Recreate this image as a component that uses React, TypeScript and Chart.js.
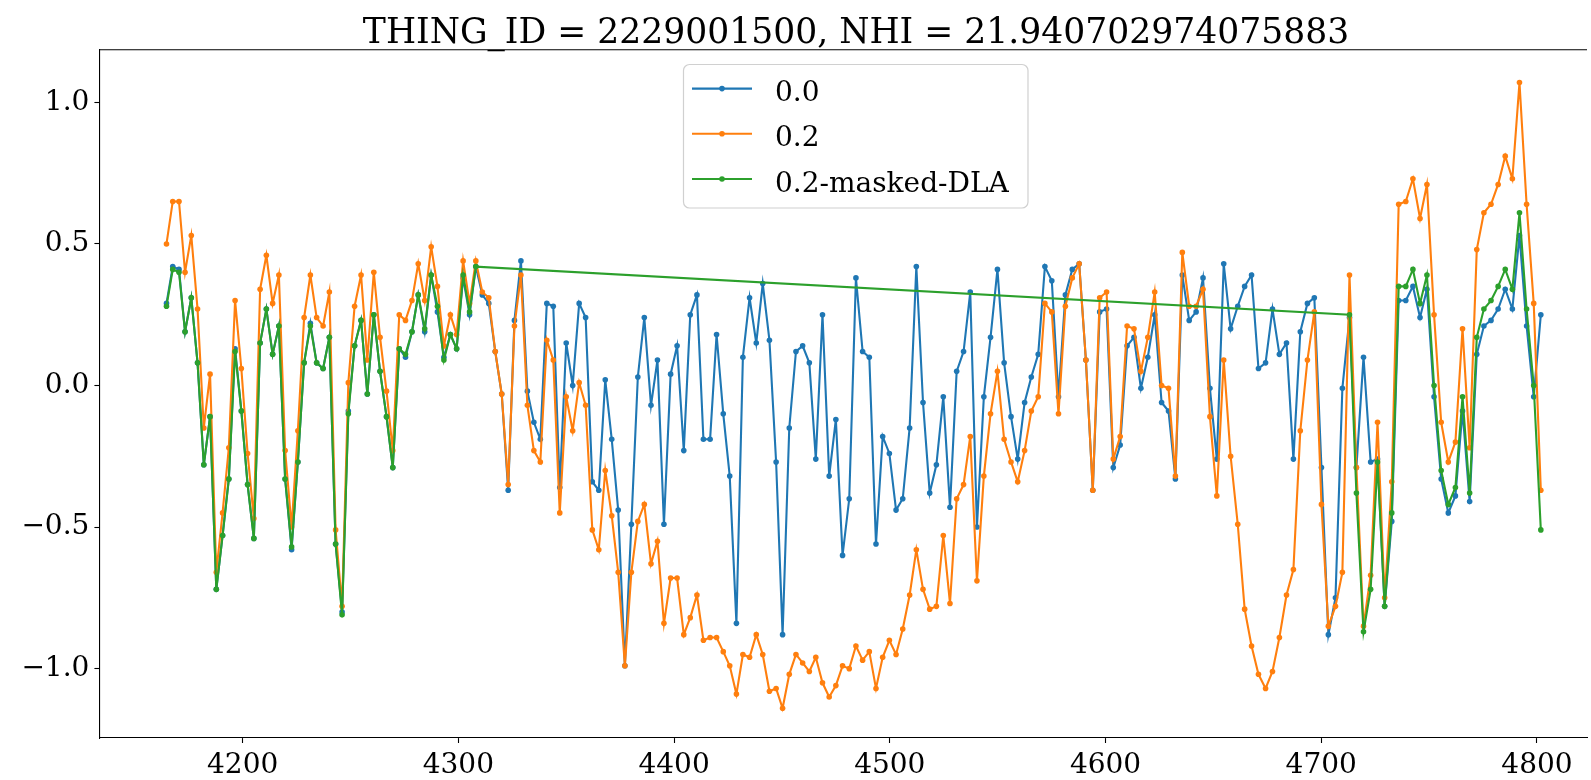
import { useEffect, useRef } from "react";
import { Chart, registerables } from "chart.js";

Chart.register(...registerables);

// Observed-frame wavelength grid (Angstrom), shared by all three spectra
const WAVE = [
  4164.7, 4167.6, 4170.5, 4173.3, 4176.2, 4179.1, 4182.0, 4184.9, 4187.8, 4190.7,
  4193.6, 4196.5, 4199.4, 4202.3, 4205.2, 4208.1, 4211.0, 4213.9, 4216.8, 4219.7,
  4222.7, 4225.6, 4228.5, 4231.4, 4234.3, 4237.3, 4240.2, 4243.1, 4246.1, 4249.0,
  4251.9, 4254.9, 4257.8, 4260.8, 4263.7, 4266.7, 4269.6, 4272.6, 4275.5, 4278.5,
  4281.4, 4284.4, 4287.4, 4290.3, 4293.3, 4296.3, 4299.2, 4302.2, 4305.2, 4308.1,
  4311.1, 4314.1, 4317.1, 4320.1, 4323.1, 4326.0, 4329.0, 4332.0, 4335.0, 4338.0,
  4341.0, 4344.0, 4347.0, 4350.0, 4353.0, 4356.0, 4359.0, 4362.1, 4365.1, 4368.1,
  4371.1, 4374.1, 4377.2, 4380.2, 4383.2, 4386.2, 4389.3, 4392.3, 4395.3, 4398.4,
  4401.4, 4404.5, 4407.5, 4410.6, 4413.6, 4416.7, 4419.7, 4422.8, 4425.8, 4428.9,
  4431.9, 4435.0, 4438.1, 4441.1, 4444.2, 4447.3, 4450.3, 4453.4, 4456.5, 4459.6,
  4462.7, 4465.7, 4468.8, 4471.9, 4475.0, 4478.1, 4481.2, 4484.3, 4487.4, 4490.5,
  4493.6, 4496.7, 4499.8, 4502.9, 4506.0, 4509.2, 4512.3, 4515.4, 4518.5, 4521.6,
  4524.8, 4527.9, 4531.0, 4534.2, 4537.3, 4540.4, 4543.6, 4546.7, 4549.9, 4553.0,
  4556.2, 4559.3, 4562.5, 4565.6, 4568.8, 4571.9, 4575.1, 4578.2, 4581.4, 4584.6,
  4587.8, 4590.9, 4594.1, 4597.3, 4600.5, 4603.6, 4606.8, 4610.0, 4613.2, 4616.4,
  4619.6, 4622.8, 4626.0, 4629.2, 4632.4, 4635.6, 4638.8, 4642.0, 4645.2, 4648.4,
  4651.6, 4654.8, 4658.0, 4661.3, 4664.5, 4667.7, 4670.9, 4674.2, 4677.4, 4680.6,
  4683.9, 4687.1, 4690.3, 4693.6, 4696.8, 4700.1, 4703.3, 4706.6, 4709.8, 4713.1,
  4716.3, 4719.6, 4722.9, 4726.1, 4729.4, 4732.7, 4735.9, 4739.2, 4742.5, 4745.8,
  4749.0, 4752.3, 4755.6, 4758.9, 4762.2, 4765.5, 4768.8, 4772.1, 4775.4, 4778.7,
  4782.0, 4785.3, 4788.6, 4791.9, 4795.2, 4798.5, 4801.8,
];

// Series "0.0"
const FLUX_00 = [
  0.29, 0.42, 0.41, 0.19, 0.31, 0.08, -0.28, -0.11, -0.72, -0.53,
  -0.33, 0.13, -0.09, -0.35, -0.54, 0.15, 0.27, 0.11, 0.21, -0.33,
  -0.58, -0.27, 0.08, 0.22, 0.08, 0.06, 0.17, -0.56, -0.8, -0.09,
  0.14, 0.23, -0.03, 0.25, 0.05, -0.11, -0.29, 0.13, 0.1, 0.19,
  0.32, 0.19, 0.39, 0.26, 0.1, 0.18, 0.13, 0.38, 0.25, 0.42,
  0.32, 0.29, 0.12, -0.03, -0.37, 0.23, 0.44, -0.02, -0.13, -0.19,
  0.29, 0.28, -0.36, 0.15, 0.0, 0.29, 0.24, -0.34, -0.37, 0.02,
  -0.19, -0.44, -0.99, -0.49, 0.03, 0.24, -0.07, 0.09, -0.49, 0.04,
  0.14, -0.23, 0.25, 0.32, -0.19, -0.19, 0.18, -0.1, -0.32, -0.84,
  0.1, 0.31, 0.15, 0.36, 0.16, -0.27, -0.88, -0.15, 0.12, 0.14,
  0.08, -0.26, 0.25, -0.32, -0.12, -0.6, -0.4, 0.38, 0.12, 0.1,
  -0.56, -0.18, -0.24, -0.44, -0.4, -0.15, 0.42, -0.06, -0.38, -0.28,
  -0.04, -0.43, 0.05, 0.12, 0.33, -0.5, -0.04, 0.17, 0.41, 0.08,
  -0.11, -0.26, -0.06, 0.03, 0.11, 0.42, 0.37, -0.04, 0.32, 0.41,
  0.43, 0.09, -0.37, 0.26, 0.27, -0.29, -0.21, 0.14, 0.17, -0.01,
  0.1, 0.25, -0.06, -0.09, -0.33, 0.39, 0.23, 0.26, 0.38, -0.01,
  -0.26, 0.43, 0.2, 0.28, 0.35, 0.39, 0.06, 0.08, 0.27, 0.11,
  0.15, -0.26, 0.19, 0.29, 0.31, -0.29, -0.88, -0.75, -0.01, 0.24,
  -0.29, 0.1, -0.27, -0.26, -0.78, -0.48, 0.3, 0.3, 0.35, 0.24,
  0.34, -0.04, -0.33, -0.45, -0.39, -0.09, -0.41, 0.11, 0.21, 0.23,
  0.27, 0.34, 0.27, 0.53, 0.21, -0.04, 0.25,
];

// Series "0.2"
const FLUX_02 = [
  0.5, 0.65, 0.65, 0.4, 0.53, 0.27, -0.15, 0.04, -0.66, -0.45,
  -0.22, 0.3, 0.06, -0.24, -0.47, 0.34, 0.46, 0.29, 0.39, -0.23,
  -0.5, -0.16, 0.24, 0.39, 0.24, 0.21, 0.33, -0.51, -0.78, 0.01,
  0.28, 0.39, 0.09, 0.4, 0.17, -0.02, -0.23, 0.25, 0.23, 0.3,
  0.43, 0.3, 0.49, 0.35, 0.14, 0.25, 0.18, 0.44, 0.29, 0.44,
  0.33, 0.31, 0.12, -0.03, -0.35, 0.21, 0.39, -0.07, -0.23, -0.27,
  0.16, 0.09, -0.45, -0.04, -0.16, 0.01, -0.07, -0.51, -0.58, -0.3,
  -0.46, -0.66, -0.99, -0.66, -0.48, -0.42, -0.63, -0.55, -0.84, -0.68,
  -0.68, -0.88, -0.82, -0.74, -0.9, -0.89, -0.89, -0.94, -0.99, -1.09,
  -0.95, -0.96, -0.88, -0.95, -1.08, -1.07, -1.14, -1.02, -0.95, -0.98,
  -1.01, -0.96, -1.05, -1.1, -1.06, -0.99, -1.0, -0.92, -0.97, -0.94,
  -1.07, -0.96, -0.9, -0.95, -0.86, -0.74, -0.58, -0.72, -0.79, -0.78,
  -0.53, -0.77, -0.4, -0.35, -0.18, -0.69, -0.32, -0.1, 0.05, -0.19,
  -0.27, -0.34, -0.23, -0.09, -0.04, 0.29, 0.26, -0.1, 0.28, 0.38,
  0.43, 0.09, -0.37, 0.31, 0.33, -0.26, -0.18, 0.21, 0.2, 0.05,
  0.17, 0.33, 0.0, -0.01, -0.32, 0.47, 0.28, 0.28, 0.34, -0.11,
  -0.39, 0.09, -0.25, -0.49, -0.79, -0.92, -1.02, -1.07, -1.01, -0.89,
  -0.74, -0.65, -0.16, 0.09, 0.26, -0.42, -0.85, -0.78, -0.66, 0.39,
  -0.29, -0.85, -0.67, -0.13, -0.75, -0.34, 0.64, 0.65, 0.73, 0.59,
  0.71, 0.25, -0.13, -0.27, -0.2, 0.2, -0.22, 0.48, 0.61, 0.64,
  0.71, 0.81, 0.73, 1.07, 0.64, 0.29, -0.37,
];

// Series "0.2-masked-DLA": pixels blueward of the absorber, then redward of it.
// The masked pixels in between are absent, so the line jumps straight across.
const MASKED_LEFT = [
  0.28, 0.41, 0.4, 0.19, 0.31, 0.08, -0.28, -0.11, -0.72, -0.53,
  -0.33, 0.12, -0.09, -0.35, -0.54, 0.15, 0.27, 0.11, 0.21, -0.33,
  -0.57, -0.27, 0.08, 0.21, 0.08, 0.06, 0.17, -0.56, -0.81, -0.1,
  0.14, 0.23, -0.03, 0.25, 0.05, -0.11, -0.29, 0.13, 0.11, 0.19,
  0.32, 0.2, 0.39, 0.28, 0.09, 0.18, 0.13, 0.39, 0.26, 0.42,
];
const MASKED_RIGHT_START = 179;
const MASKED_RIGHT = [
  0.25, -0.38, -0.87, -0.72, -0.27, -0.78, -0.45, 0.35, 0.35, 0.41,
  0.29, 0.39, 0.0, -0.3, -0.42, -0.36, -0.04, -0.38, 0.17, 0.27,
  0.3, 0.35, 0.41, 0.34, 0.61, 0.27, 0.0, -0.51,
];

const X_TICKS = [4200, 4300, 4400, 4500, 4600, 4700, 4800];
const Y_TICKS = [-1.0, -0.5, 0.0, 0.5, 1.0];
const X_RANGE = [4133.6, 4823.2];
const Y_RANGE = [-1.245, 1.186];

const TITLE = "THING_ID = 2229001500, NHI = 21.940702974075883";
const SERIES_NAMES = ["0.0", "0.2", "0.2-masked-DLA"];
const SERIES_COLORS = ["#1f77b4", "#ff7f0e", "#2ca02c"];

const FONT = '"DejaVu Serif", "Liberation Serif", serif';

const seriesStyle = (color: string, order: number) => ({
  borderColor: color,
  backgroundColor: color,
  pointBackgroundColor: color,
  pointBorderColor: color,
  borderWidth: 2.1,
  pointRadius: 2.8,
  pointBorderWidth: 0,
  tension: 0,
  order,
});

// Title, closing top spine and framed legend, drawn over the plot
const decorations = {
  id: "decorations",
  afterDraw(chart: any) {
    const { ctx, chartArea } = chart;
    ctx.save();

    ctx.strokeStyle = "#000";
    ctx.lineWidth = 1.1;
    ctx.beginPath();
    ctx.moveTo(chartArea.left, chartArea.top);
    ctx.lineTo(chartArea.right, chartArea.top);
    ctx.stroke();

    ctx.fillStyle = "#000";
    ctx.font = `34.6px ${FONT}`;
    ctx.textAlign = "center";
    ctx.textBaseline = "alphabetic";
    ctx.fillText(TITLE, 856, 42.5);

    // legend frame
    const bx = 683.5, by = 64.5, bw = 344.5, bh = 143.5, r = 6;
    ctx.beginPath();
    ctx.moveTo(bx + r, by);
    ctx.arcTo(bx + bw, by, bx + bw, by + bh, r);
    ctx.arcTo(bx + bw, by + bh, bx, by + bh, r);
    ctx.arcTo(bx, by + bh, bx, by, r);
    ctx.arcTo(bx, by, bx + bw, by, r);
    ctx.closePath();
    ctx.fillStyle = "rgba(255,255,255,0.8)";
    ctx.fill();
    ctx.strokeStyle = "#d0d0d0";
    ctx.lineWidth = 1.2;
    ctx.stroke();

    const rows = [88.6, 133.8, 179.0];
    ctx.font = `28px ${FONT}`;
    ctx.textAlign = "left";
    SERIES_NAMES.forEach((name, i) => {
      const y = rows[i];
      ctx.strokeStyle = SERIES_COLORS[i];
      ctx.lineWidth = 2.1;
      ctx.beginPath();
      ctx.moveTo(692, y);
      ctx.lineTo(752, y);
      ctx.stroke();
      ctx.fillStyle = SERIES_COLORS[i];
      ctx.beginPath();
      ctx.arc(722, y, 2.8, 0, Math.PI * 2);
      ctx.fill();
      ctx.fillStyle = "#000";
      ctx.fillText(name, 775, y + 12.5);
    });

    ctx.restore();
  },
};

export default function App() {
  const canvasRef = useRef<HTMLCanvasElement | null>(null);

  useEffect(() => {
    const canvas = canvasRef.current;
    if (!canvas) return;

    const chart = new Chart(canvas, {
      type: "line",
      data: {
        datasets: [
          {
            label: SERIES_NAMES[0],
            data: WAVE.map((x, i) => ({ x, y: FLUX_00[i] })),
            ...seriesStyle(SERIES_COLORS[0], 3),
          },
          {
            label: SERIES_NAMES[1],
            data: WAVE.map((x, i) => ({ x, y: FLUX_02[i] })),
            ...seriesStyle(SERIES_COLORS[1], 2),
          },
          {
            label: SERIES_NAMES[2],
            data: [
              ...MASKED_LEFT.map((y, i) => ({ x: WAVE[i], y })),
              ...MASKED_RIGHT.map((y, i) => ({ x: WAVE[MASKED_RIGHT_START + i], y })),
            ],
            ...seriesStyle(SERIES_COLORS[2], 1),
          },
        ],
      },
      options: {
        responsive: false,
        animation: false,
        devicePixelRatio: 1,
        events: [],
        layout: { padding: { top: 49.7, left: 0, right: 0, bottom: 0 } },
        plugins: {
          legend: { display: false },
          title: { display: false },
          tooltip: { enabled: false },
        },
        scales: {
          x: {
            type: "linear",
            min: X_RANGE[0],
            max: X_RANGE[1],
            afterBuildTicks: (scale: any) => {
              scale.ticks = X_TICKS.map((value) => ({ value }));
            },
            afterFit: (scale: any) => {
              scale.height = 42;
            },
            grid: {
              drawOnChartArea: false,
              drawTicks: true,
              tickLength: 5,
              tickWidth: 1.1,
              tickColor: "#000",
            },
            border: { display: true, color: "#000", width: 1.1 },
            ticks: {
              autoSkip: false,
              maxRotation: 0,
              padding: 6,
              color: "#000",
              font: { family: FONT, size: 28 },
              callback: (v: any) => String(v),
            },
          },
          y: {
            type: "linear",
            min: Y_RANGE[0],
            max: Y_RANGE[1],
            afterBuildTicks: (scale: any) => {
              scale.ticks = Y_TICKS.map((value) => ({ value }));
            },
            afterFit: (scale: any) => {
              scale.width = 99.4;
            },
            grid: {
              drawOnChartArea: false,
              drawTicks: true,
              tickLength: 5,
              tickWidth: 1.1,
              tickColor: "#000",
            },
            border: { display: true, color: "#000", width: 1.1 },
            ticks: {
              autoSkip: false,
              padding: 5,
              color: "#000",
              font: { family: FONT, size: 28 },
              callback: (v: any) => Number(v).toFixed(1).replace("-", "\u2212"),
            },
          },
        },
      },
      plugins: [decorations],
    });

    return () => chart.destroy();
  }, []);

  return (
    <div style={{ position: "absolute", left: 0, top: 0, width: 1591, height: 780, background: "#fff" }}>
      <canvas ref={canvasRef} width={1591} height={780} style={{ display: "block" }} />
    </div>
  );
}
